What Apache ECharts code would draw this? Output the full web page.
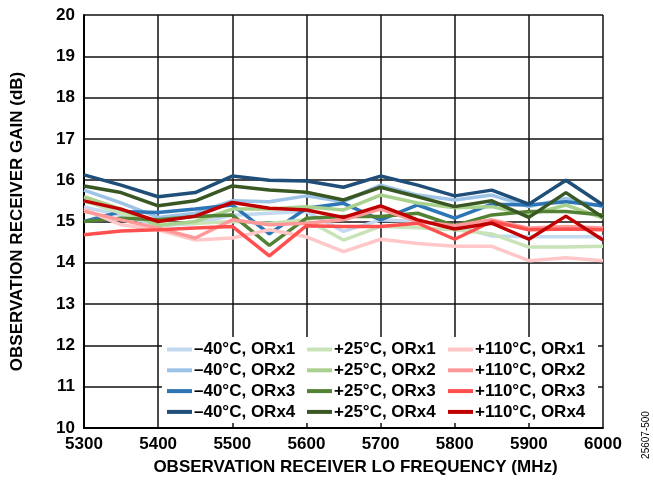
<!DOCTYPE html>
<html>
<head>
<meta charset="utf-8">
<script src="https://cdn.jsdelivr.net/npm/echarts@6/dist/echarts.min.js"></script>
<style>
  html, body { margin: 0; padding: 0; background: #fff; }
  #chart { width: 653px; height: 489px; }
</style>
</head>
<body>
<div id="chart"></div>
<script>
// LO frequency points (MHz)
const freqs = [5300, 5350, 5400, 5450, 5500, 5550, 5600, 5650, 5700, 5750, 5800, 5850, 5900, 5950, 6000];

// gain (dB)
const m40_orx1 = [15.35, 15.15, 14.9, 14.95, 15.15, 15.2, 15.24, 14.76, 15.04, 15.0, 14.9, 14.65, 14.63, 14.63, 14.63];
const m40_orx2 = [15.76, 15.45, 15.1, 15.2, 15.5, 15.48, 15.62, 15.48, 15.88, 15.64, 15.52, 15.64, 15.36, 15.56, 15.36];
const m40_orx3 = [15.0, 15.24, 15.22, 15.3, 15.4, 14.7, 15.32, 15.44, 15.04, 15.4, 15.08, 15.42, 15.4, 15.48, 15.38];
const m40_orx4 = [16.13, 15.88, 15.6, 15.7, 16.1, 16.0, 15.98, 15.83, 16.1, 15.88, 15.62, 15.76, 15.42, 16.0, 15.4];

const p25_orx1 = [15.5, 15.2, 14.95, 14.95, 15.0, 14.96, 15.04, 14.55, 14.88, 14.85, 14.8, 14.7, 14.38, 14.38, 14.4];
const p25_orx2 = [15.6, 15.3, 14.9, 15.0, 15.3, 15.3, 15.36, 15.28, 15.64, 15.45, 15.33, 15.36, 15.16, 15.4, 15.08];
const p25_orx3 = [15.0, 15.08, 15.04, 15.12, 15.16, 14.42, 15.08, 15.12, 15.12, 15.2, 14.9, 15.16, 15.24, 15.24, 15.16];
const p25_orx4 = [15.86, 15.7, 15.38, 15.5, 15.86, 15.76, 15.71, 15.52, 15.83, 15.6, 15.36, 15.5, 15.1, 15.7, 15.1];

const p110_orx1 = [15.3, 14.92, 14.8, 14.55, 14.6, 14.8, 14.63, 14.27, 14.57, 14.47, 14.4, 14.4, 14.05, 14.12, 14.05];
const p110_orx2 = [15.25, 15.04, 14.84, 14.6, 15.04, 14.92, 14.96, 15.04, 15.3, 15.0, 14.9, 15.04, 14.84, 14.88, 14.84];
const p110_orx3 = [14.68, 14.77, 14.8, 14.84, 14.88, 14.17, 14.9, 14.88, 14.88, 14.96, 14.57, 15.0, 14.8, 14.82, 14.8];
const p110_orx4 = [15.5, 15.3, 15.0, 15.13, 15.46, 15.32, 15.28, 15.1, 15.38, 15.04, 14.82, 14.96, 14.57, 15.13, 14.55];

const yTicks = [10, 11, 12, 13, 14, 15, 16, 17, 18, 19, 20];

const FONT = 'Liberation Sans, Arial, sans-serif';

const seriesDefs = [
  { name: '\u201340°C, ORx1', data: m40_orx1, color: '#c3d9ef' },
  { name: '\u201340°C, ORx2', data: m40_orx2, color: '#9dc3e6' },
  { name: '\u201340°C, ORx3', data: m40_orx3, color: '#2e75b6' },
  { name: '\u201340°C, ORx4', data: m40_orx4, color: '#1f4e79' },
  { name: '+25°C, ORx1', data: p25_orx1, color: '#c9e3b8' },
  { name: '+25°C, ORx2', data: p25_orx2, color: '#a9d18e' },
  { name: '+25°C, ORx3', data: p25_orx3, color: '#548235' },
  { name: '+25°C, ORx4', data: p25_orx4, color: '#385723' },
  { name: '+110°C, ORx1', data: p110_orx1, color: '#ffc7c7' },
  { name: '+110°C, ORx2', data: p110_orx2, color: '#ff9999' },
  { name: '+110°C, ORx3', data: p110_orx3, color: '#ff5050' },
  { name: '+110°C, ORx4', data: p110_orx4, color: '#c00000' }
];

function legendCol(names, left) {
  return {
    orient: 'vertical',
    left: left,
    top: 341,
    padding: 0,
    itemWidth: 25,
    itemHeight: 4,
    itemGap: 3.8,
    icon: 'rect',
    data: names,
    textStyle: { fontFamily: FONT, fontWeight: 'bold', fontSize: 17, color: '#000', lineHeight: 17, padding: [0, 0, 0, -3] }
  };
}

const chart = echarts.init(document.getElementById('chart'));

chart.setOption({
  animation: false,
  backgroundColor: '#fff',
  grid: { left: 84, right: 50, top: 15, bottom: 61 },
  xAxis: {
    type: 'value',
    min: 5300,
    max: 6000,
    interval: 100,
    name: 'OBSERVATION RECEIVER LO FREQUENCY (MHz)',
    nameLocation: 'middle',
    nameGap: 31,
    nameTextStyle: { fontFamily: FONT, fontWeight: 'bold', fontSize: 17, color: '#000', padding: [0, 0, 0, 24] },
    axisLine: { lineStyle: { color: '#000', width: 2 } },
    axisTick: { show: false },
    axisLabel: { fontFamily: FONT, fontWeight: 'bold', fontSize: 17, color: '#000', margin: 8, formatter: v => String(v) },
    splitLine: { show: true, lineStyle: { color: '#111', width: 1.5 } }
  },
  yAxis: {
    type: 'value',
    min: yTicks[0],
    max: yTicks[yTicks.length - 1],
    interval: 1,
    name: 'OBSERVATION RECEIVER GAIN (dB)',
    nameLocation: 'middle',
    nameGap: 58,
    nameTextStyle: { fontFamily: FONT, fontWeight: 'bold', fontSize: 17, color: '#000' },
    axisLine: { show: true, lineStyle: { color: '#000', width: 2 } },
    axisTick: { show: false },
    axisLabel: { fontFamily: FONT, fontWeight: 'bold', fontSize: 17, color: '#000', margin: 9 },
    splitLine: { show: true, lineStyle: { color: '#111', width: 1.5 } }
  },
  legend: [
    legendCol(seriesDefs.slice(0, 4).map(s => s.name), 167),
    legendCol(seriesDefs.slice(4, 8).map(s => s.name), 307),
    legendCol(seriesDefs.slice(8, 12).map(s => s.name), 448)
  ],
  graphic: [
    {
      type: 'rect',
      z: 3,
      shape: { x: 162, y: 337, width: 436, height: 86 },
      style: { fill: '#fff' }
    },
    {
      type: 'text',
      z: 5,
      x: 646,
      y: 435,
      rotation: Math.PI / 2,
      style: { text: '25607-500', font: '10px ' + FONT, fill: '#000', align: 'center', verticalAlign: 'middle' }
    }
  ],
  series: seriesDefs.map(s => ({
    name: s.name,
    type: 'line',
    data: freqs.map((f, i) => [f, s.data[i]]),
    symbol: 'none',
    color: s.color,
    lineStyle: { width: 3.5, color: s.color }
  }))
});
</script>
</body>
</html>
